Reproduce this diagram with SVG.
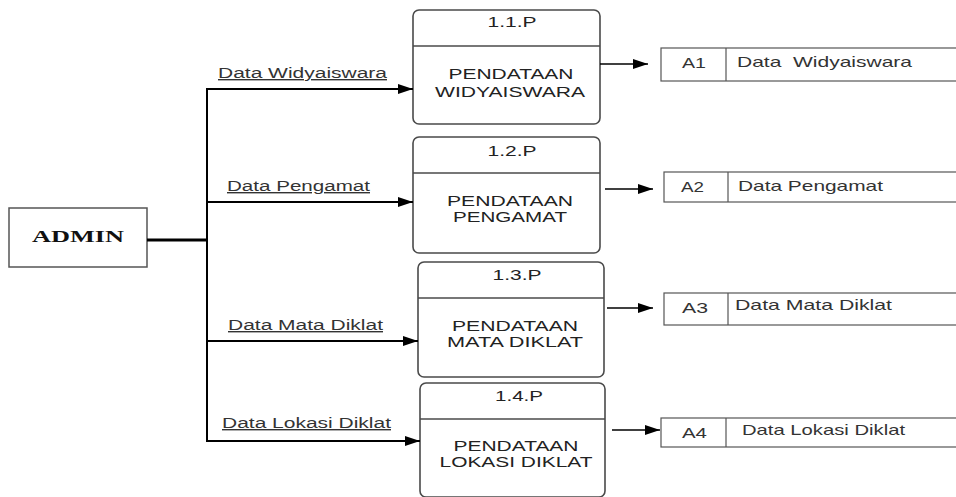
<svg xmlns="http://www.w3.org/2000/svg" width="956" height="497" viewBox="0 0 956 497">
<defs>
<marker id="arr" markerUnits="userSpaceOnUse" markerWidth="16" markerHeight="12" refX="15" refY="5" orient="auto">
<path d="M0,0 L15,5 L0,10 Z" fill="#000"/>
</marker>
<style>
.proc{fill:#fff;stroke:#4a4a4a;stroke-width:1.6}
.div{stroke:#4a4a4a;stroke-width:1.4}
.store{fill:#fff;stroke:#555;stroke-width:1.2}
.pt{font-family:"Liberation Sans",Arial,sans-serif;font-size:15px;fill:#222;text-anchor:middle}
.st{font-family:"Liberation Sans",Arial,sans-serif;font-size:14.5px;fill:#333}
.fl{font-family:"Liberation Sans",Arial,sans-serif;font-size:14px;fill:#333;text-decoration:underline}
.ln{fill:none;stroke:#000;stroke-width:2}
.ln1{fill:none;stroke:#000;stroke-width:1.5}
</style>
</defs>
<rect width="956" height="497" fill="#fff"/>

<g id="admin">
<rect x="9" y="208" width="138" height="59" fill="#fff" stroke="#555" stroke-width="1.5"/>
<text x="32" y="242" textLength="92" lengthAdjust="spacingAndGlyphs" font-family="'Liberation Serif','Times New Roman',serif" font-weight="bold" font-size="16" fill="#111">ADMIN</text>
</g>

<g id="p11">
<rect class="proc" x="413" y="10" width="187" height="114" rx="6"/>
<line class="div" x1="413" y1="46" x2="600" y2="46"/>
<text class="pt" x="512" y="27" textLength="49" lengthAdjust="spacingAndGlyphs">1.1.P</text>
<text class="pt" x="511" y="79" textLength="125" lengthAdjust="spacingAndGlyphs">PENDATAAN</text>
<text class="pt" x="510" y="97" textLength="150" lengthAdjust="spacingAndGlyphs">WIDYAISWARA</text>
</g>

<g id="p12">
<rect class="proc" x="413" y="137" width="187" height="116" rx="6"/>
<line class="div" x1="413" y1="173" x2="600" y2="173"/>
<text class="pt" x="512" y="156" textLength="49" lengthAdjust="spacingAndGlyphs">1.2.P</text>
<text class="pt" x="510" y="206" textLength="126" lengthAdjust="spacingAndGlyphs">PENDATAAN</text>
<text class="pt" x="510" y="222" textLength="114" lengthAdjust="spacingAndGlyphs">PENGAMAT</text>
</g>

<g id="p13">
<rect class="proc" x="418" y="262" width="186" height="115" rx="6"/>
<line class="div" x1="418" y1="298" x2="604" y2="298"/>
<text class="pt" x="517" y="280" textLength="49" lengthAdjust="spacingAndGlyphs">1.3.P</text>
<text class="pt" x="515" y="331" textLength="126" lengthAdjust="spacingAndGlyphs">PENDATAAN</text>
<text class="pt" x="515" y="347" textLength="136" lengthAdjust="spacingAndGlyphs">MATA DIKLAT</text>
</g>

<g id="p14">
<rect class="proc" x="420" y="383" width="185" height="114" rx="6"/>
<line class="div" x1="420" y1="419" x2="605" y2="419"/>
<text class="pt" x="519" y="401" textLength="48" lengthAdjust="spacingAndGlyphs">1.4.P</text>
<text class="pt" x="516" y="451" textLength="125" lengthAdjust="spacingAndGlyphs">PENDATAAN</text>
<text class="pt" x="516" y="467" textLength="153" lengthAdjust="spacingAndGlyphs">LOKASI DIKLAT</text>
</g>

<g id="a1">
<rect class="store" x="661" y="48" width="310" height="33"/>
<line class="store" x1="726" y1="48" x2="726" y2="81"/>
<text class="st" x="682" y="68" textLength="24" lengthAdjust="spacingAndGlyphs">A1</text>
<text class="st" x="737" y="67" textLength="175" lengthAdjust="spacingAndGlyphs" xml:space="preserve">Data  Widyaiswara</text>
</g>

<g id="a2">
<rect class="store" x="664" y="172" width="310" height="30"/>
<line class="store" x1="728" y1="172" x2="728" y2="202"/>
<text class="st" x="681" y="192" textLength="23" lengthAdjust="spacingAndGlyphs">A2</text>
<text class="st" x="738" y="191" textLength="145" lengthAdjust="spacingAndGlyphs">Data Pengamat</text>
</g>

<g id="a3">
<rect class="store" x="664" y="293" width="310" height="32"/>
<line class="store" x1="728" y1="293" x2="728" y2="325"/>
<text class="st" x="682" y="313" textLength="26" lengthAdjust="spacingAndGlyphs">A3</text>
<text class="st" x="735" y="310" textLength="157" lengthAdjust="spacingAndGlyphs">Data Mata Diklat</text>
</g>

<g id="a4">
<rect class="store" x="661" y="418" width="310" height="29"/>
<line class="store" x1="726" y1="418" x2="726" y2="447"/>
<text class="st" x="682" y="438" textLength="25" lengthAdjust="spacingAndGlyphs">A4</text>
<text class="st" x="742" y="435" textLength="163" lengthAdjust="spacingAndGlyphs">Data Lokasi Diklat</text>
</g>

<g id="connectors">
<line x1="147" y1="240" x2="208" y2="240" stroke="#000" stroke-width="3"/>
<line class="ln" x1="207" y1="88" x2="207" y2="442"/>
<line class="ln" x1="206" y1="89" x2="413" y2="89" marker-end="url(#arr)"/>
<line class="ln" x1="206" y1="202" x2="413" y2="202" marker-end="url(#arr)"/>
<line class="ln" x1="206" y1="341" x2="418" y2="341" marker-end="url(#arr)"/>
<line class="ln" x1="206" y1="441" x2="420" y2="441" marker-end="url(#arr)"/>
<line class="ln1" x1="600" y1="64" x2="648" y2="64" marker-end="url(#arr)"/>
<line class="ln1" x1="605" y1="189" x2="653" y2="189" marker-end="url(#arr)"/>
<line class="ln1" x1="607" y1="308" x2="653" y2="308" marker-end="url(#arr)"/>
<line class="ln1" x1="612" y1="430" x2="660" y2="430" marker-end="url(#arr)"/>
<text class="fl" x="218" y="78" textLength="169" lengthAdjust="spacingAndGlyphs">Data Widyaiswara</text>
<text class="fl" x="227" y="191" textLength="143" lengthAdjust="spacingAndGlyphs">Data Pengamat</text>
<text class="fl" x="228" y="330" textLength="155" lengthAdjust="spacingAndGlyphs">Data Mata Diklat</text>
<text class="fl" x="222" y="428" textLength="169" lengthAdjust="spacingAndGlyphs">Data Lokasi Diklat</text>
</g>
</svg>
